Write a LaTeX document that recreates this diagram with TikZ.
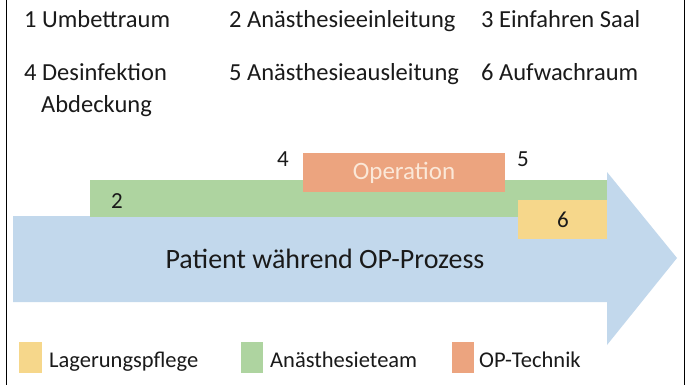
\documentclass[tikz,border=0pt]{standalone}
\usepackage{fontspec}
\setmainfont{Carlito}
\definecolor{arrowblue}{HTML}{C2D8EC}
\definecolor{anagreen}{HTML}{AED4A0}
\definecolor{optorange}{HTML}{ECA47F}
\definecolor{lageryellow}{HTML}{F6D78B}
\definecolor{optext}{HTML}{FBE8D8}
\definecolor{txt}{HTML}{1A1A1A}
\begin{document}
\begin{tikzpicture}[x=1pt,y=-1pt,
  lbl/.style={anchor=base west,inner sep=0pt,text=txt,font=\fontsize{24.5}{29}\selectfont},
  num/.style={anchor=base west,inner sep=0pt,text=txt,font=\fontsize{23}{28}\selectfont},
  leg/.style={anchor=base west,inner sep=0pt,text=txt,font=\fontsize{22.5}{27}\selectfont}]
\useasboundingbox (0,0) rectangle (688,385);
\fill[white] (0,0) rectangle (688,385);
% frame
\draw[line width=1.5pt,black] (6.5,0) -- (6.5,385);
\draw[line width=1.5pt,black] (684.5,0) -- (684.5,385);
% top list
\node[lbl] (t1) at (24,28) {1 Umbettraum};
\node[lbl] (t2) at (229,28) {2 Anästhesieeinleitung};
\node[lbl] (t3) at (481,28) {3 Einfahren Saal};
\node[lbl] (t4) at (24,81) {4 Desinfektion};
\node[lbl] (t4b) at (41,113) {Abdeckung};
\node[lbl] (t5) at (229,81) {5 Anästhesieausleitung};
\node[lbl] (t6) at (481,81) {6 Aufwachraum};
% arrow
\fill[arrowblue] (13,216) -- (607,216) -- (607,172) -- (677,258) -- (607,345) -- (607,302) -- (13,302) -- cycle;
% bars
\fill[anagreen] (90,180) rectangle (607,217);
\fill[optorange] (303,153) rectangle (505,192);
\fill[lageryellow] (518,200) rectangle (607,239);
\node[inner sep=0pt,text=optext,font=\fontsize{25}{30}\selectfont] (op) at (404,173) {Operation};
\node[num] (n2) at (111,208) {2};
\node[num] (n4) at (277,166) {4};
\node[num] (n5) at (517,166) {5};
\node[inner sep=0pt,text=txt,font=\fontsize{23}{28}\selectfont] (n6) at (563,220) {6};
\node[inner sep=0pt,text=txt,font=\fontsize{28}{34}\selectfont] (pat) at (325,259) {Patient während OP-Prozess};
% legend
\fill[lageryellow] (19,342) rectangle (42,373);
\fill[anagreen] (241,342) rectangle (263,373);
\fill[optorange] (452,342) rectangle (474,373);
\node[leg] (l1) at (49,367) {Lagerungspflege};
\node[leg] (l2) at (270,367) {Anästhesieteam};
\node[leg] (l3) at (479,367) {OP-Technik};
\end{tikzpicture}
\end{document}
